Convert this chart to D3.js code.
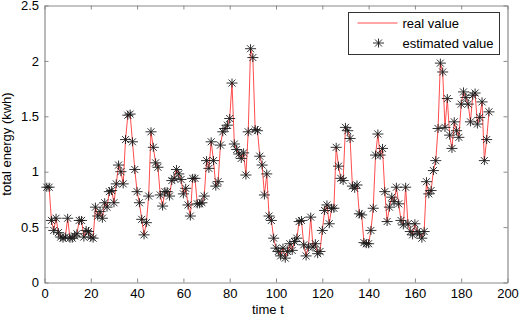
<!DOCTYPE html>
<html>
<head>
<meta charset="utf-8">
<script src="https://cdn.jsdelivr.net/npm/d3@7"></script>
<style>
  html, body { margin: 0; padding: 0; background: #fff; overflow: hidden; }
  svg { display: block; }
  text { font-family: "Liberation Sans", Arial, sans-serif; }
</style>
</head>
<body>
<div id="chart"></div>
<script>
// values (t = 1..192)
const realValue = [
  0.86, 0.86, 0.56, 0.47, 0.58, 0.45, 0.41, 0.40, 0.41, 0.58,
  0.40, 0.40, 0.42, 0.44, 0.56, 0.56, 0.41, 0.47, 0.46, 0.41,
  0.40, 0.68, 0.60, 0.64, 0.58, 0.72, 0.68, 0.82, 0.83, 0.72,
  0.89, 1.06, 1.00, 0.89, 1.29, 1.51, 1.52, 1.27, 1.02, 0.82,
  0.72, 0.57, 0.43, 0.54, 0.78, 1.36, 1.22, 1.08, 1.04, 0.79,
  0.69, 0.82, 0.82, 0.78, 0.92, 0.94, 1.02, 0.98, 0.93, 0.80,
  0.85, 0.70, 0.60, 0.94, 0.94, 0.71, 0.71, 0.72, 0.78, 1.10,
  1.03, 1.27, 1.10, 0.87, 0.91, 1.24, 1.36, 1.39, 1.42, 1.48,
  1.80, 1.25, 1.20, 1.16, 1.12, 1.17, 0.97, 1.36, 2.11, 2.03,
  1.38, 1.37, 1.14, 1.06, 0.79, 0.98, 0.60, 0.56, 0.40, 0.31,
  0.28, 0.24, 0.31, 0.22, 0.28, 0.35, 0.29, 0.37, 0.40, 0.55,
  0.56, 0.34, 0.24, 0.32, 0.59, 0.32, 0.35, 0.26, 0.28, 0.47,
  0.65, 0.70, 0.53, 0.67, 0.67, 1.22, 1.05, 0.94, 0.92, 1.40,
  1.37, 1.30, 0.87, 0.85, 0.88, 0.62, 0.61, 0.36, 0.35, 0.35,
  0.47, 0.67, 1.15, 1.34, 1.15, 1.21, 0.82, 0.55, 0.68, 0.77,
  0.73, 0.86, 0.71, 0.56, 0.52, 0.86, 0.53, 0.46, 0.43, 0.53,
  0.46, 0.44, 0.40, 0.46, 0.91, 0.80, 0.83, 1.01, 1.10, 1.39,
  1.98, 1.90, 1.40, 1.66, 1.33, 1.21, 1.45, 1.37, 1.31, 1.61,
  1.72, 1.67, 1.61, 1.45, 1.69, 1.71, 1.43, 1.49, 1.63, 1.10,
  1.29, 1.54
];

// estimates sit on top of the real curve at this scale
const estimatedValue = [
  0.86, 0.86, 0.56, 0.47, 0.58, 0.45, 0.41, 0.40, 0.41, 0.58,
  0.40, 0.40, 0.42, 0.44, 0.56, 0.56, 0.41, 0.47, 0.46, 0.41,
  0.40, 0.68, 0.60, 0.64, 0.58, 0.72, 0.68, 0.82, 0.83, 0.72,
  0.89, 1.06, 1.00, 0.89, 1.29, 1.51, 1.52, 1.27, 1.02, 0.82,
  0.72, 0.57, 0.43, 0.54, 0.78, 1.36, 1.22, 1.08, 1.04, 0.79,
  0.69, 0.82, 0.82, 0.78, 0.92, 0.94, 1.02, 0.98, 0.93, 0.80,
  0.85, 0.70, 0.60, 0.94, 0.94, 0.71, 0.71, 0.72, 0.78, 1.10,
  1.03, 1.27, 1.10, 0.87, 0.91, 1.24, 1.36, 1.39, 1.42, 1.48,
  1.80, 1.25, 1.20, 1.16, 1.12, 1.17, 0.97, 1.36, 2.11, 2.03,
  1.38, 1.37, 1.14, 1.06, 0.79, 0.98, 0.60, 0.56, 0.40, 0.31,
  0.28, 0.24, 0.31, 0.22, 0.28, 0.35, 0.29, 0.37, 0.40, 0.55,
  0.56, 0.34, 0.24, 0.32, 0.59, 0.32, 0.35, 0.26, 0.28, 0.47,
  0.65, 0.70, 0.53, 0.67, 0.67, 1.22, 1.05, 0.94, 0.92, 1.40,
  1.37, 1.30, 0.87, 0.85, 0.88, 0.62, 0.61, 0.36, 0.35, 0.35,
  0.47, 0.67, 1.15, 1.34, 1.15, 1.21, 0.82, 0.55, 0.68, 0.77,
  0.73, 0.86, 0.71, 0.56, 0.52, 0.86, 0.53, 0.46, 0.43, 0.53,
  0.46, 0.44, 0.40, 0.46, 0.91, 0.80, 0.83, 1.01, 1.10, 1.39,
  1.98, 1.90, 1.40, 1.66, 1.33, 1.21, 1.45, 1.37, 1.31, 1.61,
  1.72, 1.67, 1.61, 1.45, 1.69, 1.71, 1.43, 1.49, 1.63, 1.10,
  1.29, 1.54
];

const xTicks = [0, 20, 40, 60, 80, 100, 120, 140, 160, 180, 200];
const yTicks = [0, 0.5, 1, 1.5, 2, 2.5];
const seriesNames = ["real value", "estimated value"];

const width = 519, height = 317;
const margin = { left: 44.5, right: 11.5, top: 5.5, bottom: 34.5 };
const innerWidth = width - margin.left - margin.right;
const innerHeight = height - margin.top - margin.bottom;

const svg = d3.select("#chart")
  .append("svg")
  .attr("width", width)
  .attr("height", height);

const inner = svg.append("g")
  .attr("transform", `translate(${margin.left},${margin.top})`);

const xScale = d3.scaleLinear().domain([0, 200]).range([0, innerWidth]);
const yScale = d3.scaleLinear().domain([0, 2.5]).range([innerHeight, 0]);

// axes: ticks point inward on all four sides, box on
const axisColor = "#8a8a8a";
const styleAxis = g => {
  g.select(".domain").attr("stroke", axisColor).attr("stroke-width", 1.2);
  g.selectAll(".tick line").attr("stroke", axisColor);
  g.selectAll(".tick text").attr("fill", "#000").attr("font-size", 13)
    .attr("font-family", "'Liberation Sans', Arial, sans-serif");
};

inner.append("g")
  .attr("transform", `translate(0,${innerHeight})`)
  .call(d3.axisBottom(xScale).tickValues(xTicks).tickSizeInner(-4).tickSizeOuter(0).tickPadding(6).tickFormat(d => d))
  .call(styleAxis);

inner.append("g")
  .call(d3.axisTop(xScale).tickValues(xTicks).tickSizeInner(-4).tickSizeOuter(0))
  .call(styleAxis)
  .call(g => g.selectAll(".tick text").remove());

inner.append("g")
  .call(d3.axisLeft(yScale).tickValues(yTicks).tickSizeInner(-4).tickSizeOuter(0).tickPadding(5.5).tickFormat(d => d))
  .call(styleAxis);

inner.append("g")
  .attr("transform", `translate(${innerWidth},0)`)
  .call(d3.axisRight(yScale).tickValues(yTicks).tickSizeInner(-4).tickSizeOuter(0))
  .call(styleAxis)
  .call(g => g.selectAll(".tick text").remove());

// real value line
const line = d3.line()
  .x((d, i) => xScale(i + 1))
  .y(d => yScale(d));

inner.append("path")
  .datum(realValue)
  .attr("fill", "none")
  .attr("stroke", "#ff4d4d")
  .attr("stroke-width", 1)
  .attr("d", line);

// estimated value: '*' markers
const starPath = "M-5.5,0H5.5M0,-4.5V4.5M-3.5,-3.5L3.5,3.5M-3.5,3.5L3.5,-3.5";

inner.append("g")
  .selectAll("path")
  .data(estimatedValue)
  .join("path")
  .attr("transform", (d, i) => `translate(${xScale(i + 1)},${yScale(d)})`)
  .attr("d", starPath)
  .attr("fill", "none")
  .attr("stroke", "#1a1a1a")
  .attr("stroke-width", 0.9);

// axis labels
svg.append("text")
  .text("time t")
  .attr("x", 252)
  .attr("y", 314)
  .attr("font-size", 13);

svg.append("text")
  .text("total energy (kwh)")
  .attr("text-anchor", "middle")
  .attr("transform", "translate(11,144) rotate(-90)")
  .attr("font-size", 13);

// legend
const legend = svg.append("g").attr("transform", "translate(348.5,12.5)");

legend.append("rect")
  .attr("width", 151)
  .attr("height", 42)
  .attr("fill", "#fff")
  .attr("stroke", "#333")
  .attr("stroke-width", 1);

legend.append("line")
  .attr("x1", 9).attr("x2", 49)
  .attr("y1", 10.5).attr("y2", 10.5)
  .attr("stroke", "#ff4d4d");

legend.append("path")
  .attr("transform", "translate(30,30.5)")
  .attr("d", starPath)
  .attr("fill", "none")
  .attr("stroke", "#1a1a1a")
  .attr("stroke-width", 0.9);

legend.selectAll("text.lbl")
  .data(seriesNames)
  .join("text")
  .attr("class", "lbl")
  .text(d => d)
  .attr("x", 54)
  .attr("y", (d, i) => 15 + i * 20)
  .attr("font-size", 13);
</script>
</body>
</html>
